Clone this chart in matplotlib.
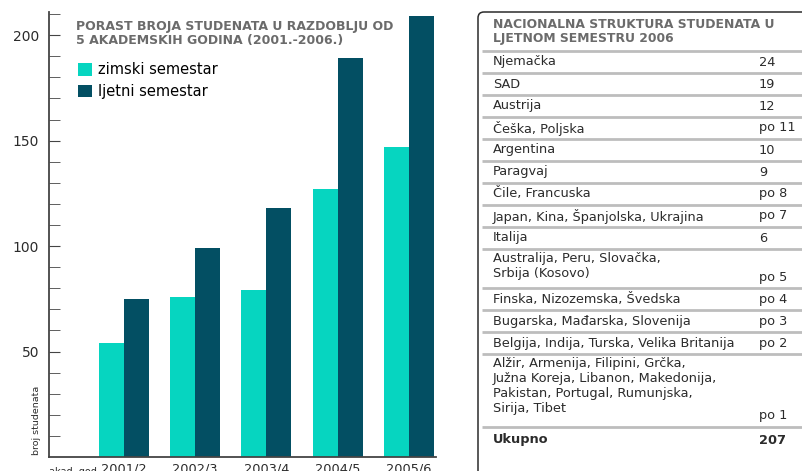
import matplotlib.pyplot as plt
from matplotlib.patches import FancyBboxPatch
import numpy as np

plt.rcParams['font.family'] = ['DejaVu Sans']

# bar chart data
years = ["2001/2", "2002/3", "2003/4", "2004/5", "2005/6"]
zimski = [54, 76, 79, 127, 147]
ljetni = [75, 99, 118, 189, 209]

# table data
countries = [
    "Njemačka", "SAD", "Austrija", "Češka, Poljska", "Argentina", "Paragvaj",
    "Čile, Francuska", "Japan, Kina, Španjolska, Ukrajina", "Italija",
    "Australija, Peru, Slovačka,\nSrbija (Kosovo)",
    "Finska, Nizozemska, Švedska", "Bugarska, Mađarska, Slovenija",
    "Belgija, Indija, Turska, Velika Britanija",
    "Alžir, Armenija, Filipini, Grčka,\nJužna Koreja, Libanon, Makedonija,\n"
    "Pakistan, Portugal, Rumunjska,\nSirija, Tibet",
]
counts = ["24", "19", "12", "po 11", "10", "9", "po 8", "po 7", "6",
          "po 5", "po 4", "po 3", "po 2", "po 1"]
total = "207"

c_zim = "#06d5c0"
c_ljet = "#034f63"
grey = "#6b6b6b"
dark = "#2b2b2b"

W, H = 803, 471
fig = plt.figure(figsize=(W / 100, H / 100), dpi=100)

# ---- bar chart ----
ax = fig.add_axes([49 / W, (H - 457) / H, (436 - 49) / W, (457 - 12) / H])
x = np.arange(len(years))
bw = 0.35
ax.bar(x - bw / 2, zimski, bw, color=c_zim, label="zimski semestar")
ax.bar(x + bw / 2, ljetni, bw, color=c_ljet, label="ljetni semestar")
ax.set_xlim(-1.05, 4.38)
ax.set_ylim(0, 211)
for s in ["top", "right"]:
    ax.spines[s].set_visible(False)
for s in ["left", "bottom"]:
    ax.spines[s].set_color("#444444")
    ax.spines[s].set_linewidth(1.3)
ax.set_yticks([50, 100, 150, 200])
ax.set_yticks(np.arange(10, 211, 10), minor=True)
ax.tick_params(axis="y", which="both", direction="in", length=8, color="#444444",
               labelsize=10, labelcolor=dark, pad=7)
ax.set_xticks(x)
ax.set_xticklabels(years, fontsize=9.3, color=dark)
ax.tick_params(axis="x", length=0, pad=4)
ax.text(-1.22, 1, "broj studenata", rotation=90, fontsize=6.8, color=dark,
        ha="center", va="bottom")
ax.text(-1.05, -4.6, "akad. god.", fontsize=7, color=dark, ha="left", va="top")

ax.text(-0.67, 207, "PORAST BROJA STUDENATA U RAZDOBLJU OD\n5 AKADEMSKIH GODINA (2001.-2006.)",
        fontsize=9.0, fontweight="bold", color=grey, va="top", ha="left",
        linespacing=1.1)
ax.legend(loc="upper left", bbox_to_anchor=(0.06, 0.9), frameon=False,
          fontsize=10.5, handlelength=0.95, handleheight=0.95, handletextpad=0.4,
          labelspacing=0.45, borderaxespad=0)

# ---- table (pixel coordinates of the figure) ----
tx = fig.add_axes([0, 0, 1, 1])
tx.set_xlim(0, W)
tx.set_ylim(H, 0)
tx.axis("off")
tx.add_patch(FancyBboxPatch((478, 12), 400, 500, boxstyle="round,pad=0,rounding_size=6",
                            fc="white", ec=dark, lw=1.1, clip_on=True))
tx.text(493, 18, "NACIONALNA STRUKTURA STUDENATA U\nLJETNOM SEMESTRU 2006",
        fontsize=8.9, fontweight="bold", color=grey, va="top", ha="left",
        linespacing=1.1)

fs = 9.3
line_kw = dict(color="#bdbdbd", lw=2, solid_capstyle="butt")
y = 51
tx.plot([482, W + 5], [y, y], **line_kw)
for name, val in zip(countries, counts):
    n = name.count("\n") + 1
    h = 22 + 17 * (n - 1)
    if n == 1:
        tx.text(493, y + 11, name, fontsize=fs, color=dark, va="center", ha="left")
    else:
        tx.text(493, y + 3, name, fontsize=fs, color=dark, va="top", ha="left",
                linespacing=1.2)
    tx.text(759, y + h - 11, val, fontsize=fs, color=dark, va="center", ha="left")
    y += h
    tx.plot([482, W + 5], [y, y], **line_kw)
tx.text(493, y + 13, "Ukupno", fontsize=fs, fontweight="bold", color=dark, va="center")
tx.text(759, y + 13, total, fontsize=fs, fontweight="bold", color=dark, va="center")

fig.savefig("out.png", dpi=100)
